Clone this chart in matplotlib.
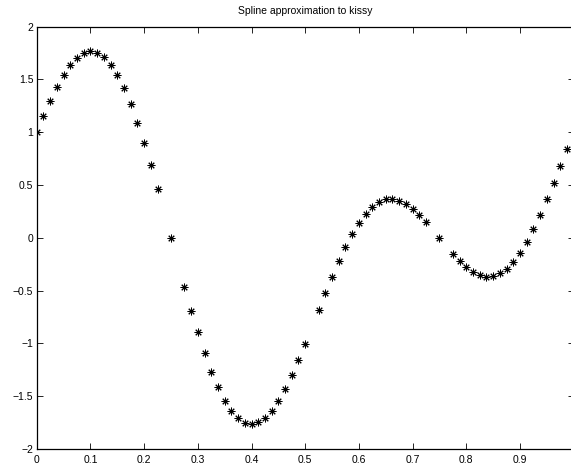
import numpy as np
import matplotlib
matplotlib.use("Agg")
import matplotlib.pyplot as plt

# x sites (k/80 with a few sites missing)
x_vals = [0.0, 0.0125, 0.025, 0.0375, 0.05, 0.0625, 0.075, 0.0875, 0.1, 0.1125,
          0.125, 0.1375, 0.15, 0.1625, 0.175, 0.1875, 0.2, 0.2125, 0.225, 0.25,
          0.275, 0.2875, 0.3, 0.3125, 0.325, 0.3375, 0.35, 0.3625, 0.375, 0.3875,
          0.4, 0.4125, 0.425, 0.4375, 0.45, 0.4625, 0.475, 0.4875, 0.5, 0.525,
          0.5375, 0.55, 0.5625, 0.575, 0.5875, 0.6, 0.6125, 0.625, 0.6375, 0.65,
          0.6625, 0.675, 0.6875, 0.7, 0.7125, 0.725, 0.75, 0.775, 0.7875, 0.8,
          0.8125, 0.825, 0.8375, 0.85, 0.8625, 0.875, 0.8875, 0.9, 0.9125, 0.925,
          0.9375, 0.95, 0.9625, 0.975, 0.9875]
y_vals = [1.0, 1.157, 1.30, 1.43, 1.545, 1.637, 1.706, 1.75, 1.766, 1.753,
          1.713, 1.64, 1.54, 1.42, 1.265, 1.09, 0.898, 0.69, 0.462, 0.0,
          -0.468, -0.69, -0.895, -1.094, -1.267, -1.415, -1.542, -1.643, -1.709, -1.75,
          -1.763, -1.747, -1.703, -1.637, -1.542, -1.428, -1.302, -1.157, -1.002, -0.683,
          -0.522, -0.368, -0.216, -0.084, 0.039, 0.143, 0.229, 0.295, 0.339, 0.365,
          0.371, 0.352, 0.32, 0.276, 0.219, 0.153, 0.0, -0.153, -0.222, -0.276,
          -0.327, -0.355, -0.368, -0.358, -0.336, -0.295, -0.225, -0.143, -0.039, 0.084,
          0.216, 0.365, 0.522, 0.68, 0.844]

x_ticks = [0, 0.1, 0.2, 0.3, 0.4, 0.5, 0.6, 0.7, 0.8, 0.9]
x_ticklabels = ["0", "0.1", "0.2", "0.3", "0.4", "0.5", "0.6", "0.7", "0.8", "0.9"]
y_ticks = [-2, -1.5, -1, -0.5, 0, 0.5, 1, 1.5, 2]
y_ticklabels = ["\u22122", "\u22121.5", "\u22121", "\u22120.5", "0", "0.5", "1", "1.5", "2"]
title = "Spline approximation to kissy"

plt.rcParams['font.family'] = ['Liberation Sans', 'DejaVu Sans']

W, H = 571, 466
fig = plt.figure(figsize=(W / 100, H / 100), dpi=100)
left = 36.7 / W
right = 573.7 / W
bottom = (H - 449.0) / H
top = (H - 26.7) / H
ax = fig.add_axes([left, bottom, right - left, top - bottom])

ax.plot(x_vals, y_vals, linestyle='none', marker=(8, 2, 0), markersize=5.5,
        markeredgewidth=0.7, color='black')

ax.set_xlim(0, 1)
ax.set_ylim(-2, 2)
ax.set_xticks(x_ticks)
ax.set_xticklabels(x_ticklabels)
ax.set_yticks(y_ticks)
ax.set_yticklabels(y_ticklabels)
ax.tick_params(direction='in', length=4, width=0.6, top=True, right=True,
               labelsize=7.5, colors='black')
ax.tick_params(axis='x', pad=4)
ax.tick_params(axis='y', pad=2.5)
for s in ax.spines.values():
    s.set_linewidth(0.9)
ax.set_title(title, fontsize=7.5, pad=9)

fig.savefig("out.png", dpi=100)
